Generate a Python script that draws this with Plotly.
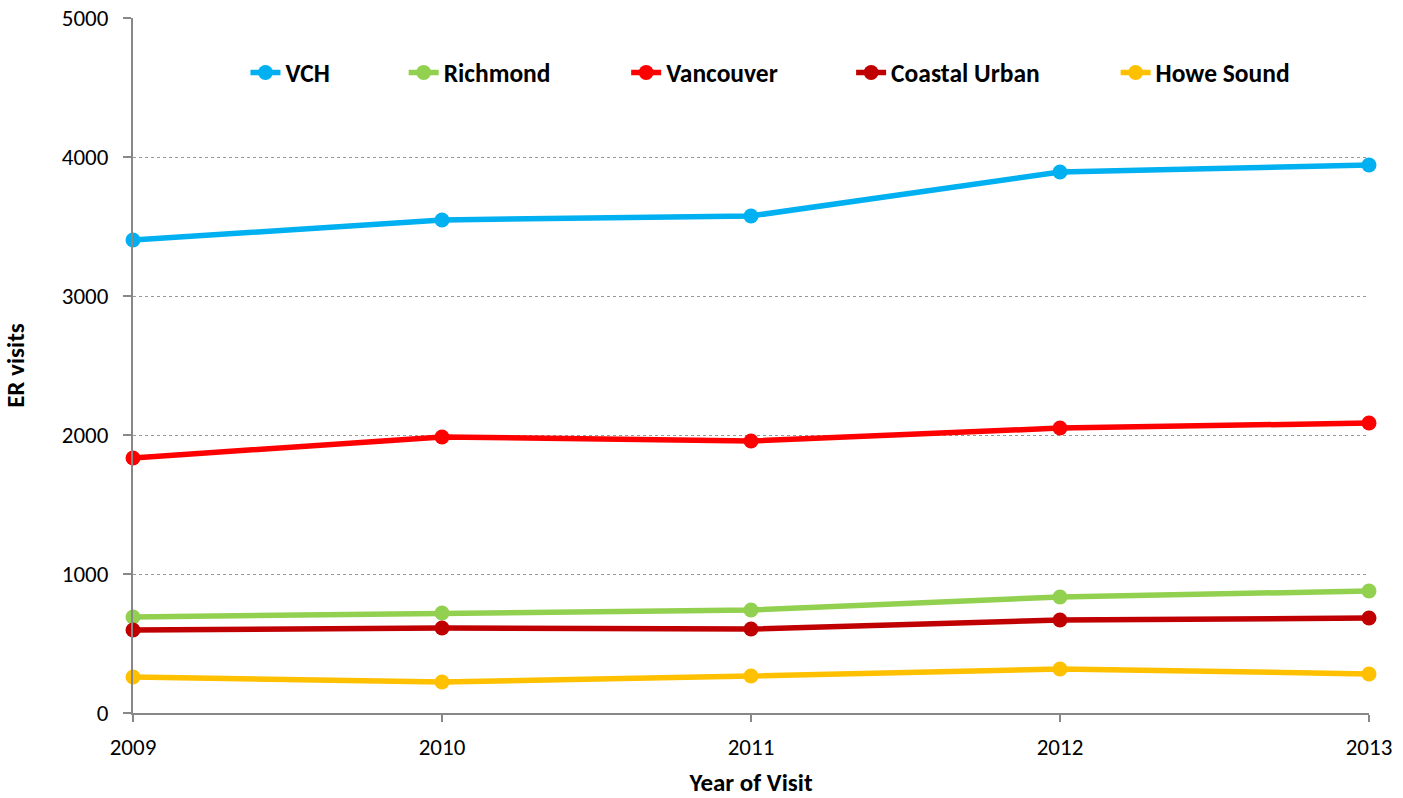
import plotly.graph_objects as go

years = ["2009", "2010", "2011", "2012", "2013"]
vch = [3403, 3547, 3576, 3892, 3942]
richmond = [691, 719, 741, 835, 878]
vancouver = [1835, 1986, 1957, 2050, 2086]
coastal_urban = [597, 611, 604, 669, 683]
howe_sound = [259, 223, 266, 317, 281]

series = [
    ("VCH", vch, "#00B0F0"),
    ("Richmond", richmond, "#92D050"),
    ("Vancouver", vancouver, "#FF0000"),
    ("Coastal Urban", coastal_urban, "#C00000"),
    ("Howe Sound", howe_sound, "#FFC000"),
]
legend_x = [0.091, 0.219, 0.399, 0.581, 0.795]

FONT = "Carlito, Lato, 'Liberation Sans', sans-serif"

fig = go.Figure()
legend_layouts = {}
for i, (name, vals, col) in enumerate(series):
    lname = "legend" if i == 0 else f"legend{i+1}"
    fig.add_trace(go.Scatter(
        x=years, y=vals, name=name, mode="lines+markers",
        line=dict(color=col, width=5.5),
        marker=dict(color=col, size=15),
        legend=lname, showlegend=True, cliponaxis=False,
    ))
    legend_layouts[lname] = dict(
        orientation="h", x=legend_x[i], y=0.921, xanchor="left", yanchor="middle",
        font=dict(family=FONT, size=25.5, color="black", weight="bold"),
        bgcolor="rgba(0,0,0,0)", itemwidth=30,
    )

fig.update_layout(
    width=1403, height=798,
    margin=dict(l=133, r=34, t=18, b=85, autoexpand=False),
    showlegend=True,
    plot_bgcolor="white", paper_bgcolor="white",
    font=dict(family=FONT, size=23, color="black"),
    xaxis=dict(
        type="category", range=[0, 4],
        showline=True, linecolor="#888888", linewidth=2,
        ticks="outside", ticklen=7, tickcolor="#888888", tickwidth=1.5,
        ticklabelstandoff=5,
        showgrid=False, zeroline=False,
        title=dict(text="<b>Year of Visit</b>", font=dict(family=FONT, size=25), standoff=22),
        tickfont=dict(family=FONT, size=23),
    ),
    yaxis=dict(
        range=[0, 5000], dtick=1000,
        showline=True, linecolor="#888888", linewidth=2,
        ticks="outside", ticklen=8, tickcolor="#888888", tickwidth=1.5,
        ticklabelstandoff=10,
        showgrid=True, gridcolor="#999999", griddash="dot", gridwidth=1,
        zeroline=False,
        title=dict(text="<b>ER visits</b>", font=dict(family=FONT, size=25), standoff=31),
        tickfont=dict(family=FONT, size=23),
    ),
    **legend_layouts,
)

fig.write_html(
    "out.html",
    config={"displayModeBar": False},
    post_script="document.body.style.margin='0';document.body.style.overflow='hidden';",
)
